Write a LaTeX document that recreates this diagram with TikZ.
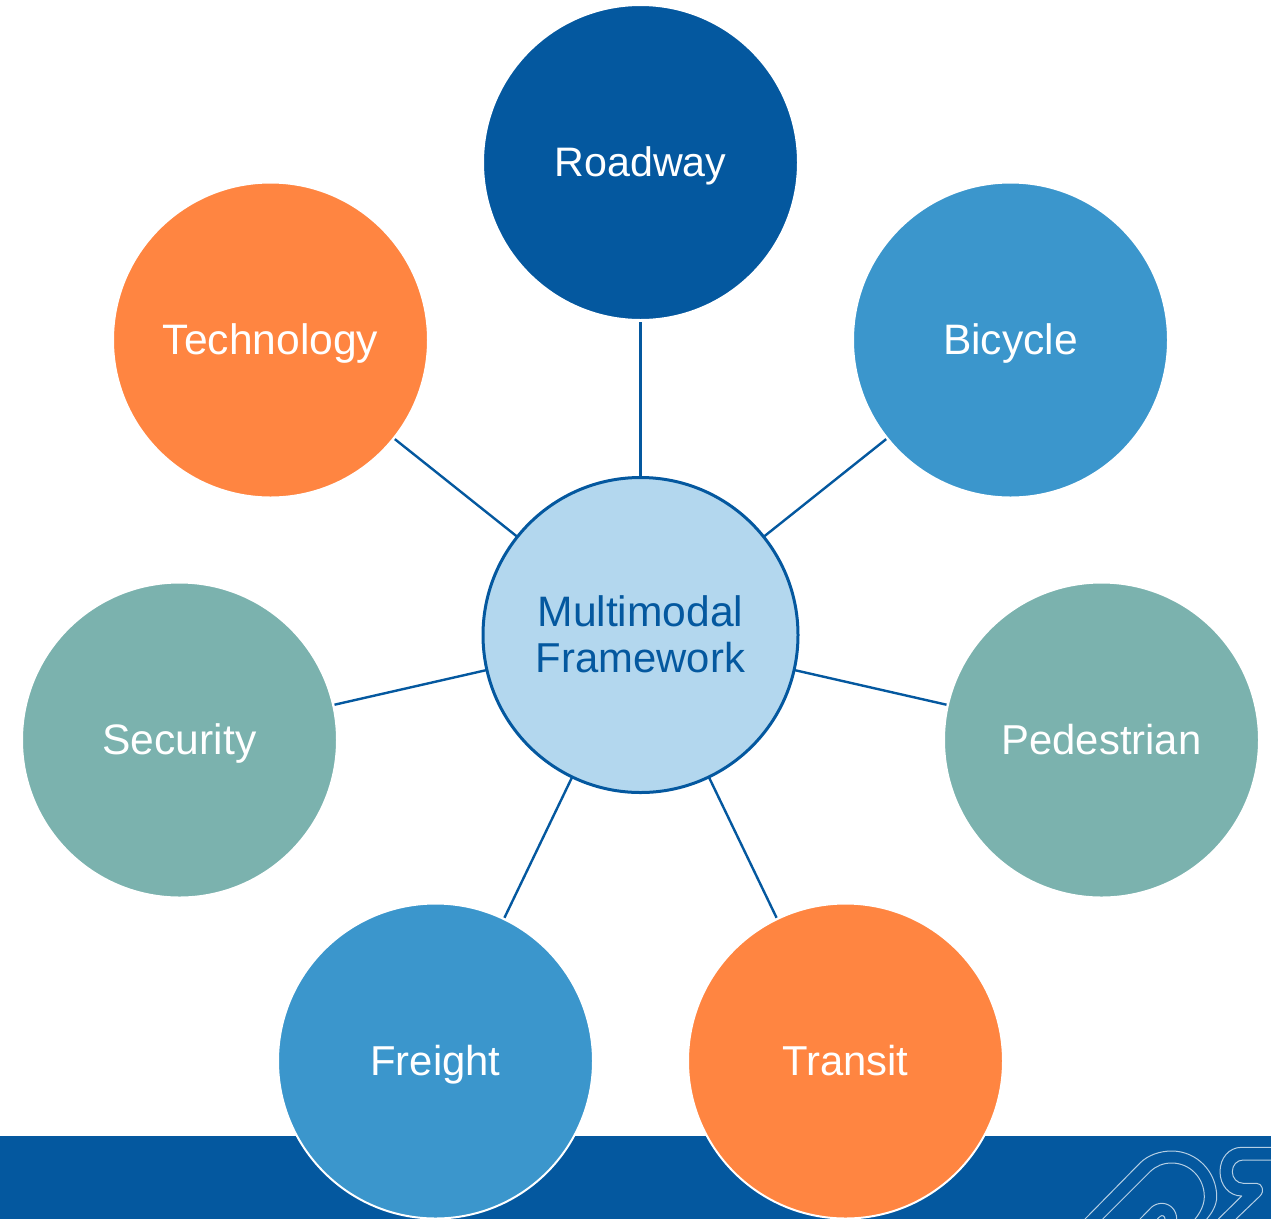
\documentclass[tikz,border=0pt]{standalone}
\usepackage{fontspec}
\setmainfont{Liberation Sans}
\definecolor{navy}{HTML}{04589F}
\definecolor{skyb}{HTML}{3B96CC}
\definecolor{orng}{HTML}{FF8541}
\definecolor{teal2}{HTML}{7BB2AE}
\definecolor{pale}{HTML}{B3D7EE}
\definecolor{logoline}{HTML}{B5CFE4}
\newcommand{\labelfont}[1]{\fontsize{#1}{46}\selectfont}
\tikzset{
  mode/.style={circle,minimum size=315pt,inner sep=0pt,outer sep=1.5pt,draw=white,line width=2pt,text=white,font=\labelfont{41.8},text height=28pt,text depth=0pt},
  widelabel/.style={font=\labelfont{42.6}},
  narrowlabel/.style={font=\labelfont{41.2}},
  hub/.style={circle,minimum size=315pt,inner sep=0pt,outer sep=0pt,draw=navy,fill=pale,line width=3pt,text=navy,font=\labelfont{41.8},align=center},
  link/.style={draw=navy,line width=2.4pt},
  logo/.style={draw=logoline,line width=1pt,line join=round}
}
\begin{document}
\begin{tikzpicture}[x=1pt,y=-1pt]
\useasboundingbox (0,0) rectangle (1271,1219);
\clip (0,0) rectangle (1271,1219);
\fill[navy] (0,1136) rectangle (1271,1219);
% logo
\draw[logo] (1085,1219) -- (1140,1163) .. controls (1148,1155) and (1160,1151) .. (1171.7,1151) .. controls (1197,1151) and (1216.7,1172) .. (1216.7,1196.7) .. controls (1216.7,1205) and (1212,1213) .. (1206.7,1219);
\draw[logo] (1102.7,1219) -- (1150,1171.7) .. controls (1156,1166) and (1163,1163) .. (1171.7,1163) .. controls (1190,1163) and (1204.3,1178) .. (1204.3,1196.7) .. controls (1204.3,1205) and (1200,1213) .. (1195,1219);
\draw[logo] (1140,1219) -- (1151.7,1207) .. controls (1154,1205) and (1158,1203.3) .. (1161.7,1203.3) .. controls (1170,1203.3) and (1176.7,1210) .. (1176.7,1219);
\draw[logo] (1157.3,1219) -- (1160,1216.5) .. controls (1162,1214.5) and (1165,1216) .. (1165,1219);
\draw[logo] (1271,1147.3) -- (1241.7,1147.3) .. controls (1229,1147.3) and (1220,1158) .. (1220,1171.7) .. controls (1220,1185) and (1229,1196) .. (1241.7,1196) -- (1218.3,1219);
\draw[logo] (1271,1160) -- (1243.3,1160) .. controls (1237,1160) and (1232.3,1165) .. (1232.3,1171.7) .. controls (1232.3,1178) and (1237,1183.3) .. (1243.3,1183.3) -- (1256.7,1183.3) .. controls (1262,1183.3) and (1265,1191) .. (1260,1196) -- (1236,1219);
% circles
\node[mode,narrowlabel,fill=navy] (road) at (640.5,162.5) {Roadway};
\node[mode,widelabel,fill=orng] (tech) at (270.5,340) {Technology};
\node[mode,widelabel,fill=skyb] (bike) at (1010.5,340) {Bicycle};
\node[mode,widelabel,fill=teal2] (sec) at (179.5,740) {Security};
\node[mode,fill=teal2] (ped) at (1101.5,740) {Pedestrian};
\node[mode,fill=skyb] (frt) at (435.5,1061) {Freight};
\node[mode,fill=orng] (trn) at (845.5,1061) {Transit};
\node[hub] (hub) at (640.5,635) {\raisebox{0pt}[\dimexpr\height+10pt\relax][\depth]{\begin{tabular}{@{}c@{}}{\labelfont{42.6}Multimodal}\\[0pt]\labelfont{41.8}Framework\end{tabular}}};
% connectors
\draw[link] (hub) -- (road);
\draw[link] (hub) -- (tech);
\draw[link] (hub) -- (bike);
\draw[link] (hub) -- (sec);
\draw[link] (hub) -- (ped);
\draw[link] (hub) -- (frt);
\draw[link] (hub) -- (trn);
\end{tikzpicture}
\end{document}
